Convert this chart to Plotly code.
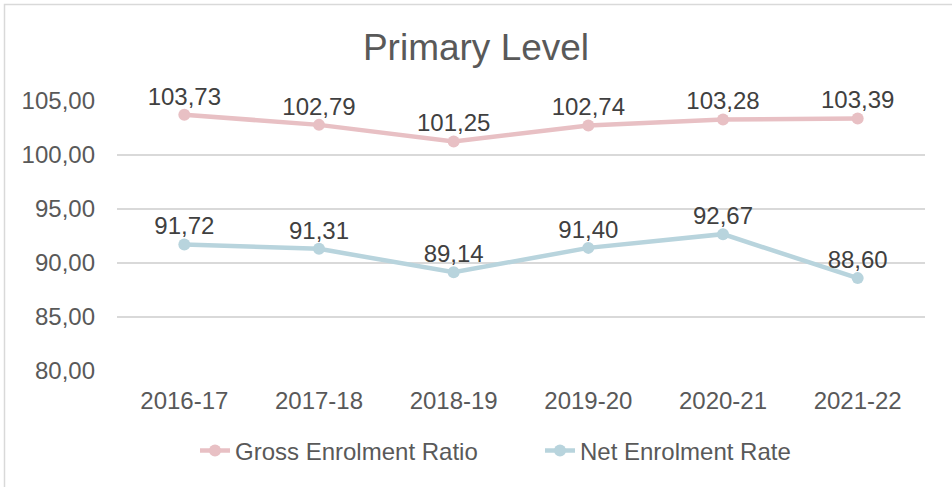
import plotly.graph_objects as go

categories = ["2016-17", "2017-18", "2018-19", "2019-20", "2020-21", "2021-22"]
gross_enrolment = [103.73, 102.79, 101.25, 102.74, 103.28, 103.39]
net_enrolment = [91.72, 91.31, 89.14, 91.40, 92.67, 88.60]
y_ticks = [80, 85, 90, 95, 100, 105]

W, H = 952, 487
L, R, T, B = 117, 27, 101, 116
pw, ph = W - L - R, H - T - B

FONT = "Liberation Sans, Arial, sans-serif"
PINK = "#E8C0C4"
BLUE = "#B8D4DD"


def fmt(v):
    return f"{v:.2f}".replace(".", ",")


fig = go.Figure()
for name, vals, col in [("Gross Enrolment Ratio", gross_enrolment, PINK),
                        ("Net Enrolment Rate", net_enrolment, BLUE)]:
    fig.add_trace(go.Scatter(
        x=categories, y=vals, name=name,
        mode="lines+markers",
        line=dict(color=col, width=4.5),
        marker=dict(color=col, size=12),
        cliponaxis=False,
    ))
for vals in [gross_enrolment, net_enrolment]:
    fig.add_trace(go.Scatter(
        x=categories, y=vals, mode="markers+text", showlegend=False,
        marker=dict(size=5, opacity=0),
        text=[fmt(v) for v in vals], textposition="top center",
        textfont=dict(family=FONT, size=24, color="#404040"),
        cliponaxis=False, hoverinfo="skip",
    ))

# chart border
fig.add_shape(type="rect", xref="paper", yref="paper",
              x0=(4.5 - L) / pw, x1=(W + 20 - L) / pw,
              y0=(T + ph - 4.5) / ph, y1=(T + ph - H - 20) / ph,
              line=dict(color="#D9D9D9", width=1.5), fillcolor="rgba(0,0,0,0)",
              layer="below")

fig.update_layout(
    width=W, height=H,
    margin=dict(l=L, r=R, t=T, b=B, autoexpand=False),
    paper_bgcolor="white", plot_bgcolor="white",
    separators=",.",
    font=dict(family=FONT, size=24, color="#595959"),
    title=dict(text="Primary Level", x=0.5, xref="container", xanchor="center",
               y=1 - 47 / H, yref="container", yanchor="middle",
               font=dict(family=FONT, size=37, color="#595959")),
    showlegend=True,
    legend=dict(orientation="h", x=(540 - L) / pw, xanchor="center",
                y=(T + ph - 451) / ph, yanchor="middle",
                entrywidth=300, entrywidthmode="pixels",
                font=dict(family=FONT, size=24, color="#595959"),
                bgcolor="rgba(0,0,0,0)"),
    xaxis=dict(showgrid=False, showline=False, zeroline=False,
               range=[-0.5, len(categories) - 0.5],
               ticks="", ticklabelstandoff=13, tickangle=0,
               tickfont=dict(family=FONT, size=24, color="#595959")),
    yaxis=dict(range=[80, 105], tickvals=y_ticks, tickformat=".2f",
               showgrid=True, gridcolor="#D9D9D9", gridwidth=1.5,
               showline=False, zeroline=False, ticks="", ticklabelstandoff=21,
               tickfont=dict(family=FONT, size=24, color="#595959")),
)

fig.write_html("out.html", config={"displayModeBar": False},
               post_script="document.body.style.margin='0';")
